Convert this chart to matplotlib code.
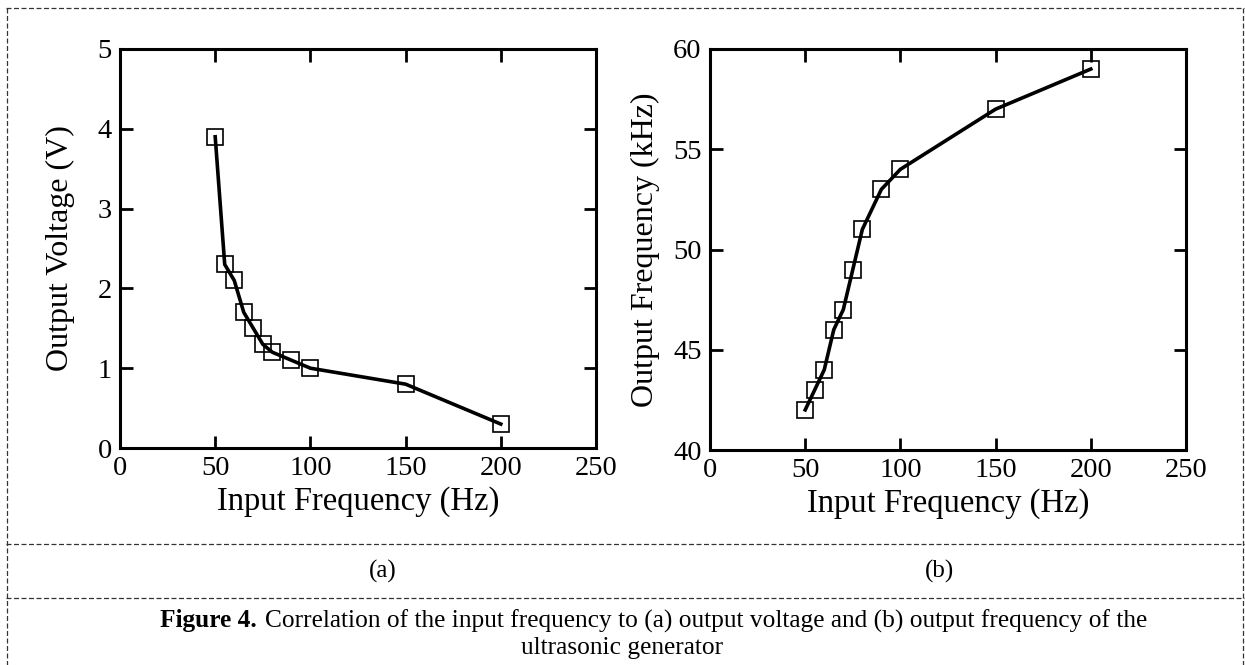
import matplotlib
matplotlib.use("Agg")
import matplotlib.pyplot as plt
from matplotlib.lines import Line2D

plt.rcParams['font.family'] = ['Liberation Serif', 'DejaVu Serif']

input_freq = [50, 55, 60, 65, 70, 75, 80, 90, 100, 150, 200]
output_voltage = [3.9, 2.3, 2.1, 1.7, 1.5, 1.3, 1.2, 1.1, 1.0, 0.8, 0.3]
output_freq = [42, 43, 44, 46, 47, 49, 51, 53, 54, 57, 59]
x_ticks = [0, 50, 100, 150, 200, 250]
volt_ticks = [0, 1, 2, 3, 4, 5]
freq_ticks = [40, 45, 50, 55, 60]

W, H = 1245, 665
fig = plt.figure(figsize=(W / 100, H / 100), dpi=100)

def px_axes(l, t, r, b):
    return fig.add_axes([l / W, 1 - b / H, (r - l) / W, (b - t) / H])

def style(ax, yticks, ylabel, ylab_x):
    ax.set_xlim(0, 250)
    ax.set_xticks(x_ticks)
    ax.set_ylim(yticks[0], yticks[-1])
    ax.set_yticks(yticks)
    ax.tick_params(direction='in', length=9, width=2, top=True, right=True,
                   labelsize=20.5, pad=6)
    for s in ax.spines.values():
        s.set_linewidth(2.2)
    ax.set_xlabel('Input Frequency (Hz)', fontsize=23.5)
    ax.xaxis.set_label_coords(0.5, -0.095)
    ax.set_ylabel(ylabel, fontsize=23)
    ax.yaxis.set_label_coords(ylab_x, 0.5)

ax1 = px_axes(120, 49, 596, 448)
ax1.plot(input_freq, output_voltage, color='black', lw=2.6, marker='s', ms=12,
         mfc='none', mec='black', mew=1.2)
style(ax1, volt_ticks, 'Output Voltage (V)', -0.095)

ax2 = px_axes(710, 49, 1186, 450)
ax2.plot(input_freq, output_freq, color='black', lw=2.6, marker='s', ms=12,
         mfc='none', mec='black', mew=1.2)
style(ax2, freq_ticks, 'Output Frequency (kHz)', -0.105)

def hline(y, x0=6, x1=1244):
    fig.add_artist(Line2D([x0 / W, x1 / W], [1 - y / H, 1 - y / H], color='#333333',
                          lw=0.9, ls=(0, (4, 2))))

def vline(x, y0=8, y1=665):
    fig.add_artist(Line2D([x / W, x / W], [1 - y0 / H, 1 - y1 / H], color='#333333',
                          lw=0.9, ls=(0, (4, 2))))

hline(8)
hline(544)
hline(598)
vline(7)
vline(1243)

fig.text(383 / W, 1 - 571 / H, '(a)', ha='center', va='center', fontsize=18)
fig.text(940 / W, 1 - 571 / H, '(b)', ha='center', va='center', fontsize=18)
fig.text(160 / W, 1 - 621 / H, 'Figure 4.', ha='left', va='center', fontsize=18.3,
         fontweight='bold')
fig.text(265 / W, 1 - 621 / H,
         'Correlation of the input frequency to (a) output voltage and (b) output frequency of the',
         ha='left', va='center', fontsize=18.3)
fig.text(622 / W, 1 - 648 / H, 'ultrasonic generator', ha='center', va='center',
         fontsize=18.3)

fig.savefig('out.png', dpi=100)
